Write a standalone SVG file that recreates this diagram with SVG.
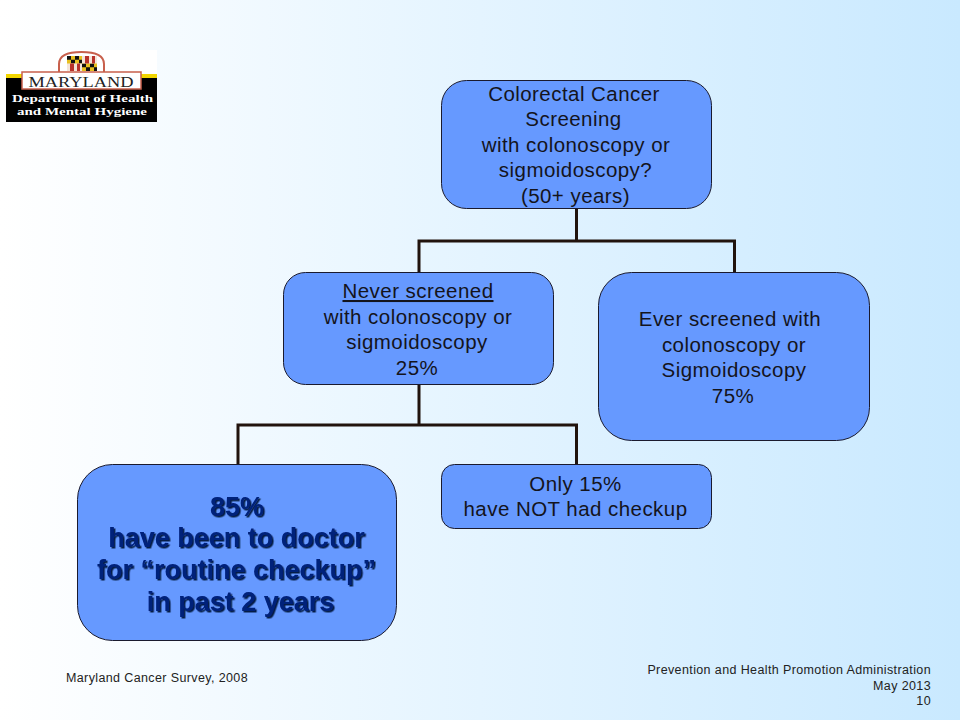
<svg xmlns="http://www.w3.org/2000/svg" width="960" height="720" viewBox="0 0 960 720">
<style>
.box{fill:#6699ff;stroke:#1a1a2e;stroke-width:1}
.t{font-family:"Liberation Sans",Arial,sans-serif;font-size:20.5px;letter-spacing:.45px;fill:#14141c;text-anchor:middle}
.b{font-family:"Liberation Sans",Arial,sans-serif;font-size:27px;font-weight:bold;fill:#00207a;text-anchor:middle;filter:url(#sh)}
.f{font-family:"Liberation Sans",Arial,sans-serif;font-size:12.5px;letter-spacing:.38px;fill:#222}
.c{fill:none;stroke:#21130d;stroke-width:3}
.l{font-family:"Liberation Serif",serif;fill:#fff;text-anchor:middle;font-weight:bold}
</style>
<defs>
<linearGradient id="bg" x1="0" y1="0" x2="1" y2="0"><stop offset="0" stop-color="#ffffff"/><stop offset="1" stop-color="#c9e9ff"/></linearGradient>
<filter id="sh" x="-5%" y="-10%" width="110%" height="130%"><feDropShadow dx="1.5" dy="1.5" stdDeviation="0.6" flood-color="#06123c" flood-opacity="0.95"/></filter>
</defs>
<rect width="960" height="720" fill="url(#bg)"/>
<g id="logo">
<rect x="6" y="50" width="151" height="72" fill="#fff"/>
<rect x="6" y="74" width="151" height="4" fill="#f2d600"/>
<rect x="6" y="78" width="151" height="44" fill="#000"/>
<path d="M59 73V64Q59 52 81.500 52Q104 52 104 64V73Z" fill="#fff" stroke="#c8604c" stroke-width="2"/>
<rect x="67" y="56" width="30" height="15" fill="#e8c020"/>
<path d="M67 56h4v3.750h-4zM75 56h4v3.750h-4zM71 59.750h4v3.750h-4zM79 59.750h3v3.750h-3zM82 63.500h4v3.750h-4zM90 63.500h4v3.750h-4zM86 67.250h4v3.750h-4zM94 67.250h3v3.750h-3z" fill="#111"/>
<path d="M82 56h15v7.500h-15zM67 63.500h15v7.500h-15z" fill="#f4e4d8"/>
<path d="M85 56h4v7.500h-4zM92 56h3v7.500h-3zM70 63.500h4v7.500h-4zM77 63.500h3v7.500h-3z" fill="#b8322a"/>
<rect x="22" y="72" width="119" height="17" fill="#fff" stroke="#c8604c" stroke-width="1.500"/>
<text x="81" y="86.500" font-family="Liberation Serif,serif" font-size="15.500" text-anchor="middle" fill="#222" textLength="105" lengthAdjust="spacingAndGlyphs">MARYLAND</text>
<text class="l" x="82.500" y="102" font-size="11" textLength="141" lengthAdjust="spacingAndGlyphs">Department of Health</text>
<text class="l" x="82" y="115" font-size="11" textLength="130" lengthAdjust="spacingAndGlyphs">and Mental Hygiene</text>
</g>
<g id="connectors">
<path class="c" d="M576.500 208V241M419 272V241H734.500V272"/>
<path class="c" d="M419 384V425M238 464V425H576.500V464"/>
</g>
<g id="node-screening">
<rect class="box" x="441.500" y="80.500" width="270" height="128" rx="25"/>
<text class="t" x="574" y="100.500">Colorectal Cancer</text>
<text class="t" x="573.500" y="126">Screening</text>
<text class="t" x="576" y="151.500">with colonoscopy or</text>
<text class="t" x="575.500" y="177">sigmoidoscopy?</text>
<text class="t" x="575.500" y="202.500">(50+ years)</text>
</g>
<g id="node-never">
<rect class="box" x="283.500" y="272.500" width="270" height="112" rx="22"/>
<text class="t" x="418" y="298" text-decoration="underline">Never screened</text>
<text class="t" x="418" y="323.500">with colonoscopy or</text>
<text class="t" x="417" y="349">sigmoidoscopy</text>
<text class="t" x="417" y="374.500">25%</text>
</g>
<g id="node-ever">
<rect class="box" x="598.500" y="272.500" width="271" height="168" rx="33"/>
<text class="t" x="730" y="326">Ever screened with</text>
<text class="t" x="734" y="351.500">colonoscopy or</text>
<text class="t" x="734" y="377">Sigmoidoscopy</text>
<text class="t" x="733" y="402.500">75%</text>
</g>
<g id="node-85">
<rect class="box" x="77.500" y="464.500" width="319" height="176" rx="35"/>
<text class="b" x="237" y="516">85%</text>
<text class="b" x="236.500" y="547">have been to doctor</text>
<text class="b" x="236.500" y="579">for “routine checkup”</text>
<text class="b" x="240.500" y="611">in past 2 years</text>
</g>
<g id="node-15">
<rect class="box" x="441.500" y="464.500" width="270" height="64" rx="13"/>
<text class="t" x="575.500" y="491">Only 15%</text>
<text class="t" x="575.500" y="516">have NOT had checkup</text>
</g>
<g id="footer">
<text class="f" x="66" y="682">Maryland Cancer Survey, 2008</text>
<text class="f" x="931" y="674" text-anchor="end">Prevention and Health Promotion Administration</text>
<text class="f" x="931" y="690" text-anchor="end">May 2013</text>
<text class="f" x="931" y="705" text-anchor="end">10</text>
</g>
</svg>
